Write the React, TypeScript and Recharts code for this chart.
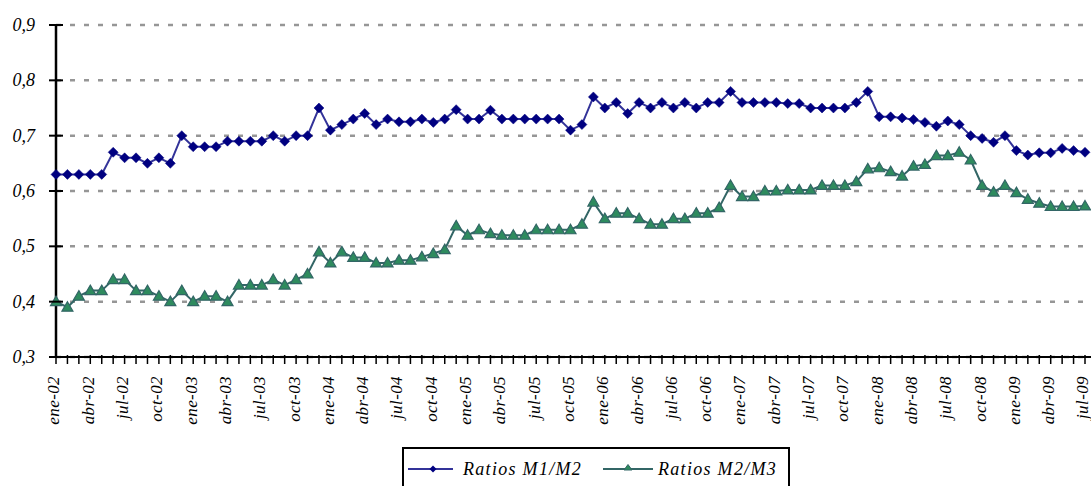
import React from 'react';
import { LineChart, Line, XAxis, YAxis, CartesianGrid, Legend } from 'recharts';

const MONTHS = ['ene', 'feb', 'mar', 'abr', 'may', 'jun', 'jul', 'ago', 'sep', 'oct', 'nov', 'dic'];
const YEARS = ['02', '03', '04', '05', '06', '07', '08', '09'];

const m1m2 = [
  0.63, 0.63, 0.63, 0.63, 0.63, 0.67, 0.66, 0.66, 0.65, 0.66, 0.65, 0.70,
  0.68, 0.68, 0.68, 0.69, 0.69, 0.69, 0.69, 0.70, 0.69, 0.70, 0.70, 0.75,
  0.71, 0.72, 0.73, 0.74, 0.72, 0.73, 0.725, 0.725, 0.73, 0.724, 0.73, 0.747,
  0.73, 0.73, 0.746, 0.73, 0.73, 0.73, 0.73, 0.73, 0.73, 0.71, 0.72, 0.77,
  0.75, 0.76, 0.74, 0.76, 0.75, 0.76, 0.75, 0.76, 0.75, 0.76, 0.76, 0.78,
  0.76, 0.76, 0.76, 0.76, 0.758, 0.758, 0.75, 0.75, 0.75, 0.75, 0.76, 0.78,
  0.734, 0.734, 0.732, 0.729, 0.724, 0.717, 0.7265, 0.72, 0.70, 0.695, 0.688, 0.70,
  0.673, 0.665, 0.669, 0.669, 0.677, 0.673, 0.67,
];

const m2m3 = [
  0.40, 0.39, 0.41, 0.42, 0.42, 0.44, 0.44, 0.42, 0.42, 0.41, 0.40, 0.42,
  0.40, 0.41, 0.41, 0.40, 0.43, 0.43, 0.43, 0.44, 0.43, 0.44, 0.45, 0.49,
  0.47, 0.49, 0.48, 0.48, 0.47, 0.47, 0.475, 0.475, 0.481, 0.487, 0.494, 0.537,
  0.52, 0.53, 0.523, 0.52, 0.52, 0.52, 0.53, 0.53, 0.53, 0.53, 0.54, 0.58,
  0.55, 0.56, 0.56, 0.55, 0.54, 0.54, 0.55, 0.55, 0.56, 0.56, 0.57, 0.61,
  0.59, 0.59, 0.60, 0.60, 0.602, 0.602, 0.602, 0.61, 0.61, 0.61, 0.617, 0.64,
  0.642, 0.635, 0.627, 0.645, 0.648, 0.664, 0.664, 0.67, 0.656, 0.61, 0.598, 0.61,
  0.597, 0.585, 0.578, 0.572, 0.572, 0.572, 0.573,
];

const yTicks = [0.3, 0.4, 0.5, 0.6, 0.7, 0.8, 0.9];
const seriesNames = ['Ratios M1/M2', 'Ratios M2/M3'];

const categories: string[] = [];
YEARS.forEach((y) => MONTHS.forEach((m) => categories.push(`${m}-${y}`)));

const data = m1m2.map((v, i) => ({ m: categories[i], a: v, b: m2m3[i] }));

const FONT = "'Liberation Serif', 'Times New Roman', serif";
const C1_LINE = '#333399';
const C1_FILL = '#000080';
const C2_LINE = '#336666';
const C2_FILL = '#2e8b5e';

const Diamond = (props: any) => {
  const { cx, cy, index } = props;
  if (cx == null || cy == null) return <g key={index} />;
  const r = 5;
  return (
    <polygon
      key={index}
      points={`${cx},${cy - r} ${cx + r},${cy} ${cx},${cy + r} ${cx - r},${cy}`}
      fill={C1_FILL}
      stroke={C1_FILL}
      strokeWidth={0.5}
    />
  );
};

const Triangle = (props: any) => {
  const { cx, cy, index } = props;
  if (cx == null || cy == null) return <g key={index} />;
  return (
    <polygon
      key={index}
      points={`${cx},${cy - 5.5} ${cx + 5.5},${cy + 4} ${cx - 5.5},${cy + 4}`}
      fill={C2_FILL}
      stroke={C2_LINE}
      strokeWidth={1.2}
    />
  );
};

const YTick = (props: any) => {
  const { x, y, payload } = props;
  return (
    <g>
      <line x1={x - 7} x2={x + 7} y1={y} y2={y} stroke="#000" strokeWidth={2} />
      <text
        x={x - 21}
        y={y}
        dy="0.34em"
        textAnchor="end"
        fontFamily={FONT}
        fontStyle="italic"
        fontSize={18}
        fill="#000"
      >
        {Number(payload.value).toFixed(1).replace('.', ',')}
      </text>
    </g>
  );
};

const XTick = (props: any) => {
  const { x, y, payload, index } = props;
  const showLabel = index % 3 === 0;
  return (
    <g>
      <line x1={x} x2={x} y1={y - 2} y2={y + 7} stroke="#000" strokeWidth={1.5} />
      {showLabel && (
        <text
          x={x - 2}
          y={y + 19}
          dy="0.32em"
          textAnchor="end"
          transform={`rotate(-90, ${x - 2}, ${y + 19})`}
          fontFamily={FONT}
          fontStyle="italic"
          fontSize={17}
          letterSpacing={0.4}
          fill="#000"
        >
          {payload.value}
        </text>
      )}
    </g>
  );
};

const LegendBox = () => (
  <div
    style={{
      width: 388,
      height: 60,
      border: '2px solid #000',
      boxSizing: 'border-box',
      background: '#fff',
    }}
  >
    <svg width={384} height={56} style={{ display: 'block' }}>
      <line x1={4} x2={49} y1={20} y2={20} stroke={C1_LINE} strokeWidth={2} />
      <polygon points="29,16.5 32.5,20 29,23.5 25.5,20" fill={C1_FILL} />
      <text
        x={59}
        y={26}
        fontFamily={FONT}
        fontStyle="italic"
        fontSize={18}
        letterSpacing={1.3}
        fill="#000"
      >
        {seriesNames[0]}
      </text>
      <line x1={199} x2={249} y1={20} y2={20} stroke={C2_LINE} strokeWidth={2} />
      <polygon points="224,15.5 228,21 220,21" fill={C2_FILL} stroke={C2_LINE} strokeWidth={1} />
      <text
        x={254}
        y={26}
        fontFamily={FONT}
        fontStyle="italic"
        fontSize={18}
        letterSpacing={1.3}
        fill="#000"
      >
        {seriesNames[1]}
      </text>
    </svg>
  </div>
);

export default function App() {
  return (
    <div
      style={{
        position: 'absolute',
        left: 0,
        top: 0,
        width: 1091,
        height: 486,
        background: '#fff',
        overflow: 'hidden',
      }}
    >
      <LineChart
        width={1091}
        height={486}
        data={data}
        margin={{ top: 25, right: 0, left: 0, bottom: 0 }}
      >
        <CartesianGrid
          horizontal
          vertical={false}
          stroke="#969696"
          strokeWidth={2.5}
          strokeDasharray="5 9"
        />
        <XAxis
          dataKey="m"
          interval={0}
          height={129}
          tickSize={0}
          tickMargin={0}
          tickLine={false}
          padding={{ left: 0, right: 6 }}
          axisLine={{ stroke: '#000', strokeWidth: 2 }}
          tick={<XTick />}
        />
        <YAxis
          type="number"
          width={56}
          domain={[0.3, 0.9]}
          ticks={yTicks}
          allowDataOverflow
          tickSize={0}
          tickMargin={0}
          tickLine={false}
          axisLine={{ stroke: '#000', strokeWidth: 2.5 }}
          tick={<YTick />}
        />
        <Legend
          layout="horizontal"
          verticalAlign="middle"
          align="center"
          wrapperStyle={{ left: 402, top: 447, width: 388, height: 60 }}
          content={() => <LegendBox />}
        />
        <Line
          type="linear"
          dataKey="a"
          name={seriesNames[0]}
          stroke={C1_LINE}
          strokeWidth={2}
          dot={Diamond}
          activeDot={false}
          isAnimationActive={false}
        />
        <Line
          type="linear"
          dataKey="b"
          name={seriesNames[1]}
          stroke={C2_LINE}
          strokeWidth={2}
          dot={Triangle}
          activeDot={false}
          isAnimationActive={false}
        />
      </LineChart>
    </div>
  );
}
